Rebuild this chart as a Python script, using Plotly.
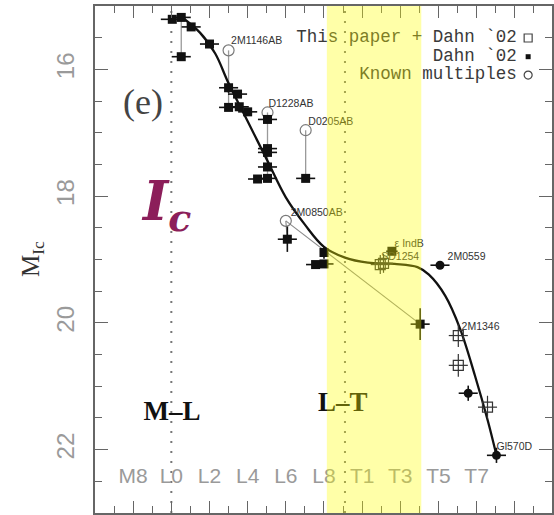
import plotly.graph_objects as go

# ---------------- data ----------------
# numeric spectral type: M8=8, L0=10, L2=12 ... L8=18, T1=20, T3=22, T5=24, T7=26
spt_tick_pos = [8, 10, 12, 14, 16, 18, 20, 22, 24, 26]
spt_tick_labels = ["M8", "L0", "L2", "L4", "L6", "L8", "T1", "T3", "T5", "T7"]

# filled squares
sq_spt = [10.05, 10.52, 10.52, 11.04, 12.0, 13.0, 13.0, 13.47, 13.56, 14.0, 15.04, 15.04,
          15.04, 15.04, 15.04, 14.52, 17.04, 16.08, 18.0, 17.56, 18.0, 21.56, 23.04]
sq_mag = [15.21, 15.18, 15.80, 15.33, 15.60, 16.29, 16.60, 16.39, 16.59, 16.67, 16.79, 17.25,
          17.31, 17.54, 17.72, 17.73, 17.72, 18.68, 18.89, 19.08, 19.07, 18.87, 20.02]
sq_spt_err = [0.6, 0.5, 0.5, 0.5, 0.5, 0.5, 0.5, 0.5, 0.5, 0.5, 0.5, 0.5,
              0.5, 0.5, 0.5, 0.5, 0.5, 0.5, 0.0, 0.5, 0.5, 0.3, 0.5]
sq_mag_err = [0.03, 0.05, 0.05, 0.05, 0.05, 0.08, 0.05, 0.05, 0.05, 0.05, 0.05, 0.05,
              0.05, 0.05, 0.05, 0.05, 0.05, 0.2, 0.1, 0.05, 0.05, 0.05, 0.25]

# open squares with crosses
osq_spt = [20.95, 21.12, 25.04, 25.04, 26.57]
osq_mag = [19.08, 19.06, 20.20, 20.67, 21.33]
osq_spt_err = [0.5, 0.5, 0.5, 0.5, 0.5]
osq_mag_err = [0.15, 0.15, 0.18, 0.18, 0.18]

# filled circles
fc_spt = [24.08, 25.56, 27.04]
fc_mag = [19.09, 21.11, 22.09]
fc_spt_err = [0.5, 0.5, 0.5]
fc_mag_err = [0.05, 0.12, 0.12]

# known multiples (open circles) and the points they link to
mult_spt = [13.0, 15.04, 17.04, 16.0]
mult_mag = [15.70, 16.68, 16.96, 18.39]
mult_link_spt = [13.0, 15.04, 17.04, 16.08]
mult_link_mag = [16.60, 17.72, 17.72, 18.68]

# extra linked pair near L0.5
pair_spt = [10.52, 10.52]
pair_mag = [15.18, 15.80]

# thin line 2M0850AB -> T3.5 point
thin_spt = [16.0, 23.04]
thin_mag = [18.39, 20.02]

# fitted relation
fit_spt = [10.52, 11.5, 12.3, 13.0, 14.0, 15.0, 16.0, 17.0, 18.0, 19.1, 20.3, 21.7,
           22.9, 23.5, 24.35, 25.13, 25.91, 26.6, 27.04]
fit_mag = [15.17, 15.42, 15.75, 16.22, 16.82, 17.42, 18.02, 18.45, 18.8, 18.97, 19.05, 19.07,
           19.12, 19.24, 19.57, 20.09, 20.83, 21.56, 22.09]

# object labels
lab_text = ["2M1146AB", "D1228AB", "D0205AB", "2M0850AB", "\u03b5 IndB", "SD1254",
            "2M0559", "2M1346", "Gl570D"]
lab_spt = [13.13, 15.09, 17.18, 16.26, 21.7, 21.0, 24.48, 25.21, 27.04]
lab_mag = [15.56, 16.55, 16.84, 18.27, 18.76, 18.97, 18.97, 20.07, 21.96]

legend_text = ["This paper + Dahn `02", "Dahn `02", "Known multiples"]
legend_mag = [15.505, 15.80, 16.09]

# ---------------- figure ----------------
fig = go.Figure()

INK = "#111111"

# multiple links
lx, ly = [], []
for a, b, c, d in zip(mult_spt, mult_mag, mult_link_spt, mult_link_mag):
    lx += [a, c, None]
    ly += [b, d, None]
lx += [pair_spt[0], pair_spt[1], None]
ly += [pair_mag[0], pair_mag[1], None]
fig.add_trace(go.Scatter(x=lx, y=ly, mode="lines", line=dict(color="#9a9a9a", width=1.3),
                         hoverinfo="skip"))
fig.add_trace(go.Scatter(x=thin_spt, y=thin_mag, mode="lines",
                         line=dict(color="#8a8a8a", width=1.1), hoverinfo="skip"))
fig.add_trace(go.Scatter(x=fit_spt, y=fit_mag, mode="lines",
                         line=dict(color=INK, width=2.3, shape="spline", smoothing=1.0),
                         hoverinfo="skip"))

# open circles
fig.add_trace(go.Scatter(x=mult_spt, y=mult_mag, mode="markers",
                         marker=dict(symbol="circle-open", size=11, color="#7a7a7a",
                                     line=dict(width=1.2))))

# filled squares
fig.add_trace(go.Scatter(
    x=sq_spt, y=sq_mag, mode="markers",
    marker=dict(symbol="square", size=9, color=INK),
    error_x=dict(type="data", array=sq_spt_err, color=INK, thickness=1.6, width=0),
    error_y=dict(type="data", array=sq_mag_err, color=INK, thickness=1.6, width=0)))

# open squares with crosses
fig.add_trace(go.Scatter(
    x=osq_spt, y=osq_mag, mode="markers",
    marker=dict(symbol="square-open", size=10, color="#333333", line=dict(width=1.2)),
    error_x=dict(type="data", array=osq_spt_err, color="#333333", thickness=1.2, width=0),
    error_y=dict(type="data", array=osq_mag_err, color="#333333", thickness=1.2, width=0)))

# filled circles
fig.add_trace(go.Scatter(
    x=fc_spt, y=fc_mag, mode="markers",
    marker=dict(symbol="circle", size=9, color=INK),
    error_x=dict(type="data", array=fc_spt_err, color=INK, thickness=1.6, width=0),
    error_y=dict(type="data", array=fc_mag_err, color=INK, thickness=1.6, width=0)))

# object labels
fig.add_trace(go.Scatter(x=lab_spt, y=lab_mag, mode="text", text=lab_text,
                         textposition="middle right",
                         textfont=dict(family="Liberation Sans", size=10.5, color="#333333")))

# spectral type labels inside plot
fig.add_trace(go.Scatter(x=spt_tick_pos, y=[22.44] * len(spt_tick_pos), mode="text",
                         text=spt_tick_labels, textposition="middle center",
                         textfont=dict(family="Liberation Sans", size=21, color="#9a9a9a")))

# M-L, L-T
fig.add_trace(go.Scatter(x=[10.04, 18.99], y=[21.42, 21.28], mode="text",
                         text=["<b>M\u2013L</b>", "<b>L\u2013T</b>"], textposition="middle center",
                         textfont=dict(family="Liberation Serif", size=27, color="#111111")))

# legend text
fig.add_trace(go.Scatter(x=[28.1] * 3, y=legend_mag, mode="text", text=legend_text,
                         textposition="middle left",
                         textfont=dict(family="Liberation Mono", size=17.5, color="#3a3a3a")))
fig.add_trace(go.Scatter(x=[28.7], y=[legend_mag[0]], mode="markers",
                         marker=dict(symbol="square-open", size=8, color="#444",
                                     line=dict(width=1.2))))
fig.add_trace(go.Scatter(x=[28.7], y=[legend_mag[1]], mode="markers",
                         marker=dict(symbol="square", size=5, color="#111")))
fig.add_trace(go.Scatter(x=[28.7], y=[legend_mag[2]], mode="markers",
                         marker=dict(symbol="circle-open", size=8, color="#444",
                                     line=dict(width=1.2))))

shapes = [
    dict(type="line", xref="x", yref="paper", x0=10, x1=10, y0=0, y1=1, layer="below",
         line=dict(color="#777777", width=2, dash="2px,8px")),
    dict(type="line", xref="x", yref="paper", x0=19.1, x1=19.1, y0=0, y1=1, layer="below",
         line=dict(color="#777777", width=2, dash="2px,8px")),
    dict(type="rect", xref="x", yref="paper", x0=18.15, x1=23.1, y0=0, y1=1, layer="above",
         line=dict(width=0), fillcolor="rgba(255,255,0,0.34)"),
]

annotations = [
    dict(x=8.5, y=16.51, xref="x", yref="y", text="(e)", showarrow=False,
         font=dict(family="Liberation Serif", size=36, color="#444444")),
    dict(x=9.72, y=18.13, xref="x", yref="y", text="<b><i>I</i></b><sub><b><i>c</i></b></sub>",
         showarrow=False, font=dict(family="DejaVu Serif", size=54, color="#8C1E5A")),
    dict(x=-0.175, y=0.5, xref="paper", yref="paper", text="M<sub>Ic</sub>", textangle=-90,
         showarrow=False, font=dict(family="Liberation Serif", size=25, color="#333333")),
]

axis_common = dict(showline=True, linecolor="#666666", linewidth=1.5, mirror="ticks",
                   ticks="inside", tickcolor="#666666", tickwidth=1.3, showgrid=False,
                   zeroline=False)

fig.update_layout(
    width=554, height=515,
    margin=dict(l=95, r=0, t=6, b=2),
    paper_bgcolor="white", plot_bgcolor="white",
    showlegend=False,
    shapes=shapes, annotations=annotations,
    xaxis=dict(range=[6, 29.95], tick0=0, dtick=2, ticklen=12, showticklabels=False,
               minor=dict(dtick=1, ticklen=7, ticks="inside", tickcolor="#666666"),
               **axis_common),
    yaxis=dict(range=[23, 15], tick0=16, dtick=2, ticklen=13, tickangle=-90,
               tickfont=dict(family="Liberation Sans", size=24, color="#9a9a9a"),
               ticklabelstandoff=10,
               minor=dict(dtick=0.5, ticklen=7, ticks="inside", tickcolor="#666666"),
               **axis_common),
)

fig.write_html("out.html")
